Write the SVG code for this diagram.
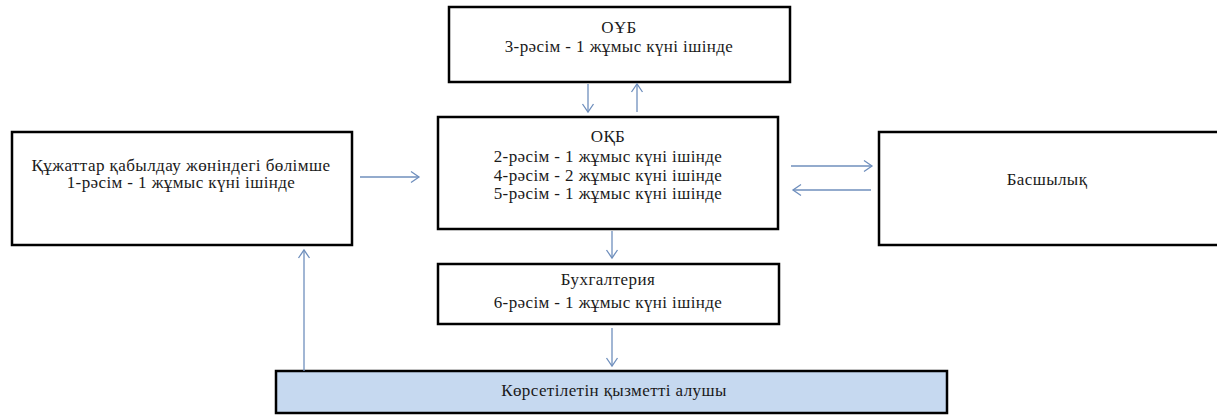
<svg xmlns="http://www.w3.org/2000/svg" width="1217" height="415" viewBox="0 0 1217 415">
<style>
.box{fill:#ffffff;stroke:#000000;stroke-width:2.5}
.blue{fill:#c6d9f0}
.t{font-family:"Liberation Serif","DejaVu Serif",serif;font-size:17px;letter-spacing:0.4px;fill:#1a1a1a;text-anchor:middle}
.c{stroke:#6f8fbd;stroke-width:1.3;fill:none}
</style>
<defs>
<marker id="ah" viewBox="-10 -7 12 14" markerWidth="12" markerHeight="14" refX="0" refY="0" orient="auto" markerUnits="userSpaceOnUse">
<path d="M-8,-5.5 L0,0 L-8,5.5" fill="none" stroke="#6f8fbd" stroke-width="1.3"/>
</marker>
</defs>
<rect width="1217" height="415" fill="#ffffff"/>
<g id="oub">
<rect class="box" x="449" y="7" width="341" height="75"/>
<text class="t" x="619" y="33">ОҰБ</text>
<text class="t" x="619" y="52">3-рәсім - 1 жұмыс күні ішінде</text>
</g>
<g id="okb">
<rect class="box" x="438" y="117" width="340" height="112"/>
<text class="t" x="608" y="142">ОҚБ</text>
<text class="t" x="608" y="162">2-рәсім - 1 жұмыс күні ішінде</text>
<text class="t" x="608" y="181">4-рәсім - 2 жұмыс күні ішінде</text>
<text class="t" x="608" y="199">5-рәсім - 1 жұмыс күні ішінде</text>
</g>
<g id="qabyldau">
<rect class="box" x="12" y="132" width="340" height="113"/>
<text class="t" x="181" y="171" textLength="299" lengthAdjust="spacingAndGlyphs">Құжаттар қабылдау жөніндегі бөлімше</text>
<text class="t" x="181" y="188">1-рәсім - 1 жұмыс күні ішінде</text>
</g>
<g id="basshylyq">
<rect class="box" x="879" y="132" width="345" height="113"/>
<text class="t" x="1047" y="185">Басшылық</text>
</g>
<g id="buhgalteria">
<rect class="box" x="438" y="264" width="341" height="60"/>
<text class="t" x="608" y="285">Бухгалтерия</text>
<text class="t" x="608" y="308">6-рәсім - 1 жұмыс күні ішінде</text>
</g>
<g id="alushy">
<rect class="box blue" x="276" y="371" width="671" height="42"/>
<text class="t" x="614" y="396">Көрсетілетін қызметті алушы</text>
</g>
<g id="connectors">
<line class="c" x1="588" y1="84" x2="588" y2="112" marker-end="url(#ah)"/>
<line class="c" x1="637" y1="112" x2="637" y2="84" marker-end="url(#ah)"/>
<line class="c" x1="360" y1="177" x2="419" y2="177" marker-end="url(#ah)"/>
<line class="c" x1="791" y1="166" x2="872" y2="166" marker-end="url(#ah)"/>
<line class="c" x1="871" y1="190" x2="793" y2="190" marker-end="url(#ah)"/>
<line class="c" x1="612" y1="231" x2="612" y2="258" marker-end="url(#ah)"/>
<line class="c" x1="612" y1="328" x2="612" y2="366" marker-end="url(#ah)"/>
<line class="c" x1="304" y1="371" x2="304" y2="250" marker-end="url(#ah)"/>
</g>
</svg>
